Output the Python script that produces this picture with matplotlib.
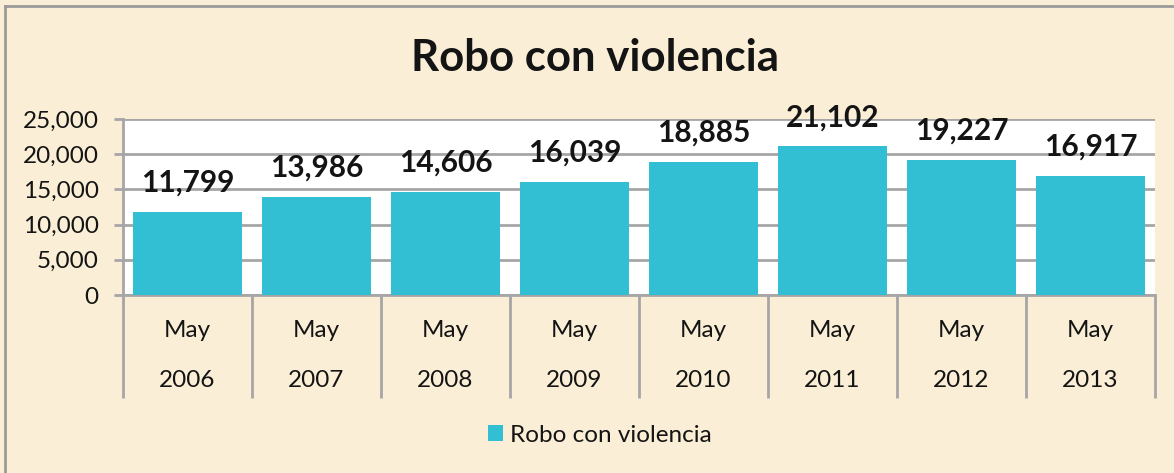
import matplotlib
matplotlib.use("Agg")
import matplotlib.pyplot as plt
from matplotlib.lines import Line2D
from matplotlib.ticker import FuncFormatter, FixedLocator
import numpy as np

# data
months = ["May"] * 8
years = ["2006", "2007", "2008", "2009", "2010", "2011", "2012", "2013"]
robos = [11799, 13986, 14606, 16039, 18885, 21102, 19227, 16917]
series_name = "Robo con violencia"

bar_color = "#33BFD3"
bg_color = "#FAEFD6"
grid_color = "#A6A6A6"
text_color = "#141414"

plt.rcParams["font.family"] = ["Lato", "DejaVu Sans"]

fig = plt.figure(figsize=(11.74, 4.73), dpi=100)
fig.patch.set_facecolor(bg_color)

ax = fig.add_axes([123 / 1174, 1 - 295 / 473, (1155 - 123) / 1174, 176 / 473])
ax.set_facecolor("white")

x = np.arange(len(robos))
bars = ax.bar(x, robos, width=0.84, color=bar_color, zorder=3, label=series_name)

ax.set_xlim(-0.5, len(robos) - 0.5)
ax.set_ylim(0, 25000)
ax.set_yticks(np.arange(0, 25001, 5000))
ax.yaxis.set_major_formatter(FuncFormatter(lambda v, p: f"{int(v):,}"))
ax.grid(axis="y", color=grid_color, linewidth=2, zorder=0)

for s in ["top", "right"]:
    ax.spines[s].set_visible(False)
for s in ["left", "bottom"]:
    ax.spines[s].set_color(grid_color)
    ax.spines[s].set_linewidth(2)

ax.tick_params(axis="y", length=6.5, width=2, color=grid_color, pad=11,
               labelsize=17.5, labelcolor=text_color)

# month labels as major ticks, separators as long minor ticks
ax.set_xticks(x)
ax.set_xticklabels(months)
ax.tick_params(axis="x", which="major", length=0, pad=18, labelsize=17.5,
               labelcolor=text_color)
ax.xaxis.set_minor_locator(FixedLocator(np.arange(-0.5, len(robos), 1.0)))
ax.tick_params(axis="x", which="minor", length=74, width=2, color=grid_color,
               direction="out")

for i, yr in enumerate(years):
    ax.text(i, -0.483, yr, transform=ax.get_xaxis_transform(), ha="center",
            va="center", fontsize=17.5, color=text_color)

for b, v in zip(bars, robos):
    ax.annotate(f"{v:,}", (b.get_x() + b.get_width() / 2, v),
                xytext=(0, 11), textcoords="offset points", ha="center",
                va="bottom", fontsize=21.5, fontweight="bold", color=text_color,
                annotation_clip=False)

fig.text(595 / 1174, 1 - 58 / 473, "Robo con violencia", ha="center",
         va="center", fontsize=31.5, fontweight="bold", color=text_color)

leg = fig.legend(handles=[bars], labels=[series_name], loc="center",
                 bbox_to_anchor=(600 / 1174, 1 - 435 / 473), frameon=False,
                 fontsize=17.5, handlelength=0.62, handleheight=0.62,
                 handletextpad=0.3)
for t in leg.get_texts():
    t.set_color(text_color)

# outer chart frame
fig.add_artist(Line2D([5 / 1174, 5 / 1174], [0, 1 - 6 / 473],
                      transform=fig.transFigure, color="#9A9A9A", lw=2))
fig.add_artist(Line2D([5 / 1174, 1], [1 - 6 / 473, 1 - 6 / 473],
                      transform=fig.transFigure, color="#9A9A9A", lw=2))

fig.savefig("out.png", dpi=100, facecolor=bg_color)
